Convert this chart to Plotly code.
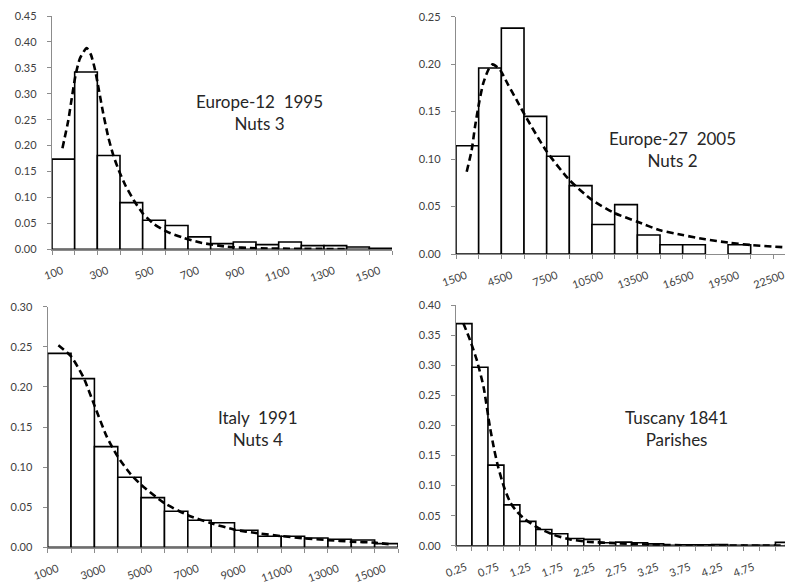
import plotly.graph_objects as go

W, H = 785, 583

# ---------------- data ----------------
# Panel 1: Europe-12 1995, Nuts 3
bins1 = [100, 200, 300, 400, 500, 600, 700, 800, 900, 1000, 1100, 1200, 1300, 1400, 1500]
freq1 = [0.174, 0.342, 0.181, 0.090, 0.056, 0.046, 0.024, 0.011, 0.014, 0.009, 0.014, 0.007, 0.007, 0.0045, 0.002]
fit1_x = [146, 172, 187, 204, 223, 253, 272, 290, 307, 326, 348, 370, 394, 423, 460, 501, 549, 607, 674, 754, 872, 1000, 1200, 1400]
fit1_y = [0.195, 0.249, 0.291, 0.336, 0.368, 0.388, 0.375, 0.346, 0.307, 0.262, 0.217, 0.182, 0.153, 0.124, 0.095, 0.069, 0.049, 0.034, 0.023, 0.013, 0.005, 0.002, 0.001, 0.0005]
ticks1 = [100, 300, 500, 700, 900, 1100, 1300, 1500]
ticktext1 = ["100", "300", "500", "700", "900", "1100", "1300", "1500"]

# Panel 2: Europe-27 2005, Nuts 2
bins2 = [1500, 3000, 4500, 6000, 7500, 9000, 10500, 12000, 13500, 15000, 16500, 18000, 19500, 21000]
freq2 = [0.114, 0.196, 0.238, 0.145, 0.103, 0.072, 0.031, 0.052, 0.020, 0.0098, 0.0098, None, 0.0098, None]
fit2_x = [2208, 2539, 2757, 3042, 3306, 3637, 3928, 4411, 4960, 5515, 6176, 7500, 9000, 10500, 12000, 13500, 15000, 16500, 18000, 19500, 21000, 23300]
fit2_y = [0.0867, 0.1096, 0.134, 0.1605, 0.180, 0.194, 0.1998, 0.194, 0.178, 0.162, 0.143, 0.108, 0.078, 0.057, 0.043, 0.034, 0.025, 0.020, 0.0155, 0.012, 0.0095, 0.007]
ticks2 = [1500, 4500, 7500, 10500, 13500, 16500, 19500, 22500]
ticktext2 = ["1500", "4500", "7500", "10500", "13500", "16500", "19500", "22500"]

# Panel 3: Italy 1991, Nuts 4
bins3 = [1000, 2000, 3000, 4000, 5000, 6000, 7000, 8000, 9000, 10000, 11000, 12000, 13000, 14000, 15000]
freq3 = [0.2418, 0.2103, 0.1255, 0.0873, 0.0619, 0.0449, 0.0337, 0.0307, 0.0212, 0.0137, 0.0137, 0.0116, 0.0100, 0.0091, 0.0046]
fit3_x = [1457, 2000, 2529, 3000, 3529, 4000, 4529, 5000, 6000, 7000, 8000, 9000, 10000, 11000, 12000, 13000, 14000, 15000, 15600]
fit3_y = [0.252, 0.238, 0.212, 0.177, 0.138, 0.113, 0.092, 0.078, 0.055, 0.040, 0.030, 0.022, 0.0175, 0.014, 0.011, 0.009, 0.007, 0.0058, 0.004]
ticks3 = [1000, 3000, 5000, 7000, 9000, 11000, 13000, 15000]
ticktext3 = ["1000", "3000", "5000", "7000", "9000", "11000", "13000", "15000"]

# Panel 4: Tuscany 1841, Parishes
bins4 = [0.25, 0.5, 0.75, 1.0, 1.25, 1.5, 1.75, 2.0, 2.25, 2.5, 2.75, 3.0, 3.25, 3.5, 3.75, 4.0, 4.25, 4.5, 4.75, 5.0, 5.25]
freq4 = [0.3695, 0.297, 0.134, 0.068, 0.0405, 0.027, 0.020, 0.012, 0.0105, 0.005, 0.006, 0.005, 0.003, 0.0005, 0.0015, 0.0015, 0.002, 0.0005, 0.0005, 0.0005, 0.0055]
fit4_x = [0.365, 0.47, 0.575, 0.68, 0.78, 0.85, 0.91, 1.0, 1.1, 1.2, 1.33, 1.53, 1.78, 2.04, 2.3, 2.8, 3.3, 3.6, 4.5, 5.4]
fit4_y = [0.370, 0.342, 0.309, 0.265, 0.198, 0.159, 0.131, 0.098, 0.072, 0.057, 0.044, 0.030, 0.018, 0.0105, 0.0067, 0.004, 0.002, 0.001, 0.0003, 0.0001]
ticks4 = [0.25, 0.75, 1.25, 1.75, 2.25, 2.75, 3.25, 3.75, 4.25, 4.75]
ticktext4 = ["0.25", "0.75", "1.25", "1.75", "2.25", "2.75", "3.25", "3.75", "4.25", "4.75"]

labels = [
    ("Europe-12\u00a0 1995<br>Nuts 3", 259, 112),
    ("Europe-27\u00a0 2005<br>Nuts 2", 672, 149),
    ("Italy\u00a0 1991<br>Nuts 4", 258, 428),
    ("Tuscany 1841<br>Parishes", 676, 429),
]

# ---------------- layout geometry (pixels) ----------------
panels = [
    dict(bins=bins1, freq=freq1, width=100, fx=fit1_x, fy=fit1_y, ticks=ticks1, ttext=ticktext1,
         xr=[100, 1600], yr=[0, 0.45], x0=52, x1=392, ytop=16, ybot=249.3),
    dict(bins=bins2, freq=freq2, width=1500, fx=fit2_x, fy=fit2_y, ticks=ticks2, ttext=ticktext2,
         xr=[1500, 23270], yr=[0, 0.25], x0=456, x1=785, ytop=16.7, ybot=254),
    dict(bins=bins3, freq=freq3, width=1000, fx=fit3_x, fy=fit3_y, ticks=ticks3, ttext=ticktext3,
         xr=[1000, 16000], yr=[0, 0.30], x0=47.7, x1=398, ytop=306.7, ybot=547.3),
    dict(bins=bins4, freq=freq4, width=0.25, fx=fit4_x, fy=fit4_y, ticks=ticks4, ttext=ticktext4,
         xr=[0.25, 5.40], yr=[0, 0.40], x0=456, x1=785, ytop=305.3, ybot=545.7),
]

FONT = "Lato, 'Open Sans', sans-serif"
TICKCOL = "#404040"
AXCOL = "#8c8c8c"

fig = go.Figure()
layout = dict(
    template="none",
    width=W, height=H, margin=dict(l=0, r=0, t=0, b=0, pad=0, autoexpand=False),
    paper_bgcolor="white", plot_bgcolor="white", showlegend=False,
    font=dict(family=FONT, color=TICKCOL),
)

for i, p in enumerate(panels, start=1):
    xa = "x" if i == 1 else f"x{i}"
    ya = "y" if i == 1 else f"y{i}"
    fig.add_trace(go.Bar(
        x=p["bins"], y=p["freq"], width=p["width"], offset=0,
        marker=dict(color="white", line=dict(color="black", width=1.6)),
        xaxis=xa, yaxis=ya, hoverinfo="skip",
    ))
    fig.add_trace(go.Scatter(
        x=p["fx"], y=p["fy"], mode="lines",
        line=dict(color="black", width=2.6, dash="7px,4px", shape="spline", smoothing=0.6),
        xaxis=xa, yaxis=ya, hoverinfo="skip", cliponaxis=True,
    ))
    xkey = "xaxis" if i == 1 else f"xaxis{i}"
    ykey = "yaxis" if i == 1 else f"yaxis{i}"
    layout[xkey] = dict(
        domain=[p["x0"] / W, min(p["x1"] / W, 1.0)], range=p["xr"], anchor=ya,
        tickmode="array", tickvals=p["ticks"], ticktext=p["ttext"],
        ticks="outside", ticklen=4, tickcolor=AXCOL, tickwidth=1,
        minor=dict(dtick=p["width"], tick0=p["bins"][0], ticks="outside", ticklen=4,
                   tickcolor=AXCOL, showgrid=False),
        showline=True, linecolor=AXCOL, linewidth=1.2, layer="below traces",
        showgrid=False, zeroline=False, automargin=False,
        tickangle=-20, tickfont=dict(size=11, color=TICKCOL, family=FONT),
        ticklabelshift=10, ticklabelstandoff=6, ticklabeloverflow="allow",
        fixedrange=True,
    )
    layout[ykey] = dict(
        domain=[1 - p["ybot"] / H, 1 - p["ytop"] / H], range=p["yr"], anchor=xa,
        tickmode="linear", dtick=0.05, tick0=0, tickformat=".2f",
        ticks="outside", ticklen=4, tickcolor=AXCOL,
        showline=True, linecolor=AXCOL, linewidth=1.2, layer="below traces",
        showgrid=False, zeroline=False, automargin=False,
        tickfont=dict(size=11, color=TICKCOL, family=FONT),
        ticklabelstandoff=8, fixedrange=True,
    )

annots = []
for text, cx, cy in labels:
    annots.append(dict(
        text=text, x=cx / W, y=1 - cy / H, xref="paper", yref="paper",
        showarrow=False, xanchor="center", yanchor="middle", align="center",
        font=dict(family=FONT, size=17, color="#262626"),
    ))
layout["annotations"] = annots

fig.update_layout(**layout)
fig.write_html("out.html", config={"displayModeBar": False, "staticPlot": True},
               post_script="document.body.style.margin='0px';")
